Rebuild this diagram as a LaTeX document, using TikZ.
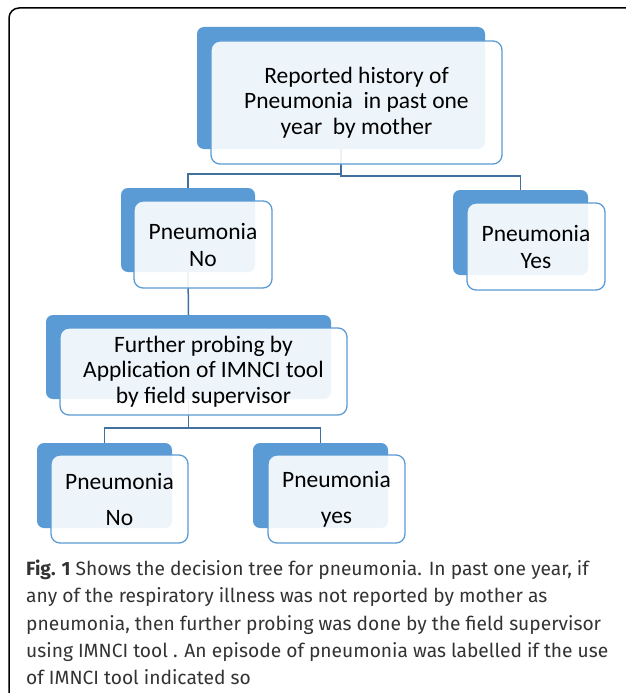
\documentclass[tikz,border=0pt]{standalone}
\usepackage{fontspec}
\setmainfont{Carlito}
\newfontfamily\capfont{Fira Sans}
\definecolor{accent}{HTML}{5B9BD5}
\definecolor{connc}{HTML}{41719C}
\begin{document}
\begin{tikzpicture}[x=1pt,y=-1pt,
  backbox/.style={fill=accent, rounded corners=7pt, inner sep=0pt},
  frontbox/.style={fill=white, fill opacity=0.9, text opacity=1, draw=accent, line width=1.3pt,
     rounded corners=9pt, inner sep=0pt, align=center, text=black},
  conn/.style={draw=connc, line width=1.5pt},
  captxt/.style={anchor=base west, inner sep=0pt, font=\capfont\fontsize{19.2}{22}\selectfont, text=black!80}
]
\useasboundingbox (0,0) rectangle (625,693);
\fill[white] (0,0) rectangle (625,693);
% outer frame
\draw[line width=1.5pt, rounded corners=10pt] (9,700) -- (9,8) -- (640,8);

% back boxes
\node[backbox, minimum width=288pt, minimum height=122pt] (topB) at (341,88) {};
\node[backbox, minimum width=134pt, minimum height=84pt] (noAB) at (188,230) {};
\node[backbox, minimum width=135pt, minimum height=85pt] (yesAB) at (520.5,232.5) {};
\node[backbox, minimum width=285pt, minimum height=84pt] (furB) at (188.5,357) {};
\node[backbox, minimum width=135pt, minimum height=85pt] (noBB) at (104.5,485.5) {};
\node[backbox, minimum width=135pt, minimum height=85pt] (yesBB) at (320.5,485.5) {};

% connectors
\coordinate (j1) at (341,174);
\coordinate (j2) at (341,176);
\draw[conn] (topB.south) -- (j1) -| (noAB.north);
\draw[conn] (topB.south) -- (j2) -| (yesAB.north);
\draw[conn] (noAB.south) -- (furB.north);
\coordinate (j3) at (188.5,428);
\draw[conn] (furB.south) -- (j3) -| (noBB.north);
\draw[conn] (furB.south) -- (j3) -| (yesBB.north);

% front boxes
\node[frontbox, minimum width=291pt, minimum height=123pt,
  font=\fontsize{23.5}{25.5}\selectfont] (topF) at (356.5,102.5)
  {Reported history of\\Pneumonia\ \ in past one\\year\ \ by mother};
\node[frontbox, minimum width=138pt, minimum height=87pt,
  font=\fontsize{23.5}{27}\selectfont] (noAF) at (203,244.5) {Pneumonia\\No};
\node[frontbox, minimum width=138pt, minimum height=87pt,
  font=\fontsize{23.5}{27}\selectfont] (yesAF) at (536,246.5) {Pneumonia\\Yes};
\node[frontbox, minimum width=287pt, minimum height=87pt,
  font=\fontsize{23.5}{25.5}\selectfont] (furF) at (203.5,371.5)
  {Further probing by\\Application of IMNCI tool\\by field supervisor};
\node[frontbox, minimum width=137pt, minimum height=88pt,
  font=\fontsize{23.5}{36}\selectfont] (noBF) at (119.5,499) {Pneumonia\\No};
\node[frontbox, minimum width=137pt, minimum height=88pt,
  font=\fontsize{23.5}{36}\selectfont] (yesBF) at (336.5,499) {Pneumonia\\yes};

% caption
\node[captxt] (cap1) at (26,575) {\textbf{Fig. 1} Shows the decision tree for pneumonia. In past one year, if};
\node[captxt] (cap2) at (26,602) {any of the respiratory illness was not reported by mother as};
\node[captxt] (cap3) at (26,630) {pneumonia, then further probing was done by the field supervisor};
\node[captxt] (cap4) at (26,657) {using IMNCI tool . An episode of pneumonia was labelled if the use};
\node[captxt] (cap5) at (26,684) {of IMNCI tool indicated so};
\end{tikzpicture}
\end{document}
